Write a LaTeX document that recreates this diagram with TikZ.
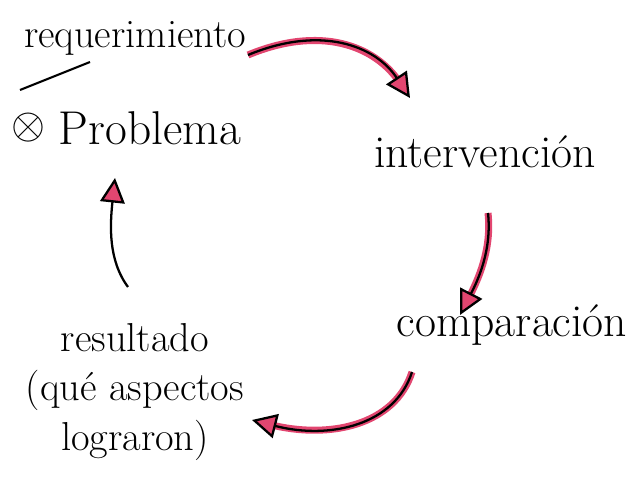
\documentclass[tikz,border=0pt]{standalone}
\usetikzlibrary{arrows.meta}
\definecolor{rosa}{RGB}{226,70,112}
\tikzset{
  etiqueta/.style={font=\fontsize{26}{30}\selectfont, inner sep=0pt},
  flecha/.style={line width=1.3pt, -{Triangle[length=14pt,width=14pt,fill=rosa]}},
  resaltada/.style={flecha, preaction={draw=rosa, line width=4pt, shorten >=10pt, -}}
}
\begin{document}
\begin{tikzpicture}[x=0.02cm,y=-0.02cm]
		\useasboundingbox (0,0) rectangle (629,492);
		% textos
		\node[etiqueta,font=\fontsize{23}{26}\selectfont] (requerimiento) at (135,38) {requerimiento};
		\node[etiqueta] (marca) at (28,128) {$\otimes$};
		\node[etiqueta,font=\fontsize{27}{30}\selectfont] (problema) at (150,128) {Problema};
		\node[etiqueta] (intervencion) at (485,152) {intervención};
		\node[etiqueta] (comparacion) at (512,325) {comparación};
		\node[etiqueta,align=center,font=\fontsize{23}{28}\selectfont] (resultado) at (135,392) {resultado\\(qué aspectos\\lograron)};
		\draw[line width=1.2pt] (20,90) -- (90,62);
		% ciclo
		\coordinate (a1) at (248,55);  \coordinate (b1) at (410,98);
		\coordinate (a2) at (488,213); \coordinate (b2) at (460,315);
		\coordinate (a3) at (412,372); \coordinate (b3) at (252,420);
		\coordinate (a4) at (128,287); \coordinate (b4) at (115,178);
		\draw[resaltada] (a1) .. controls (320,25) and (375,45) .. (b1);
		\draw[resaltada] (a2) .. controls (492,250) and (478,280) .. (b2);
		\draw[resaltada] (a3) .. controls (395,425) and (330,440) .. (b3);
		\draw[flecha] (a4) .. controls (108,260) and (110,225) .. (b4);
\end{tikzpicture}
\end{document}
